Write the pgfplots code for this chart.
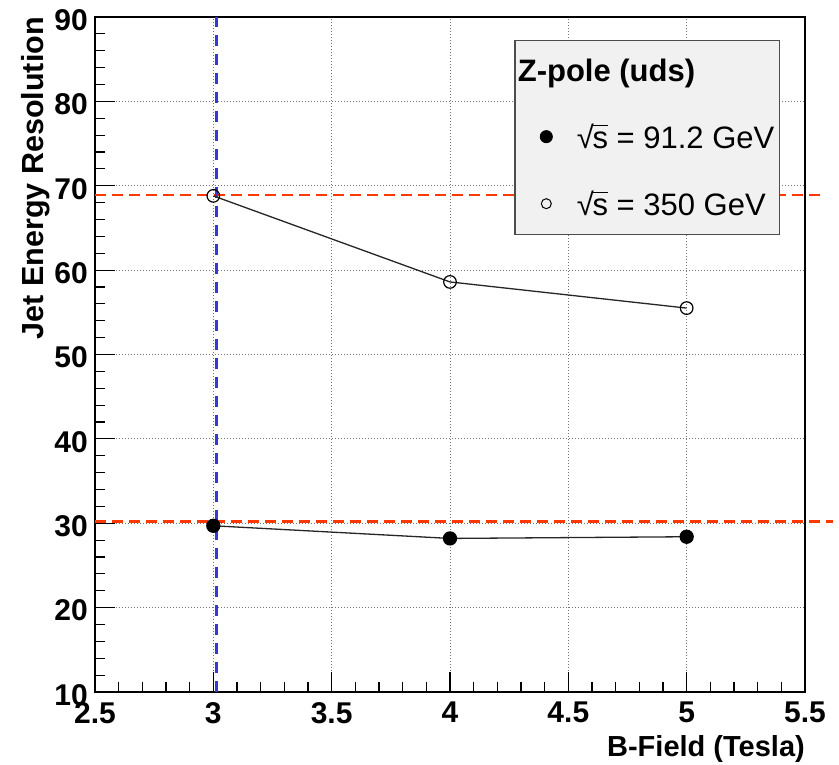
\documentclass[border=0pt]{standalone}
\usepackage{pgfplots}
\pgfplotsset{compat=1.18}
\usepackage{fontspec}
\setmainfont{Liberation Sans}

\definecolor{refline}{RGB}{255,55,0}
\definecolor{bfield}{RGB}{55,55,215}
\definecolor{legfill}{RGB}{241,241,241}

% sqrt(s) in ROOT style: radical glyph with a bar over the s
\newcommand{\rts}{√\kern-0.04em\vbox{\hrule height 1.3pt\kern 5.4pt\hbox{s}}}

\begin{document}
\begin{tikzpicture}
\begin{axis}[
  name=ax,
  scale only axis, width=710pt, height=675pt,
  xmin=2.5, xmax=5.5, ymin=10, ymax=90,
  xtick={2.5,3,3.5,4,4.5,5,5.5},
  ytick={10,20,30,40,50,60,70,80,90},
  minor x tick num=4, minor y tick num=4,
  tick pos=left, tick align=inside,
  major tick length=20pt, minor tick length=10pt,
  every tick/.style={black, line width=1.2pt},
  axis line style={black, line width=1.5pt},
  grid=major,
  major grid style={gray!90!black, line width=0.9pt, dash pattern=on 1pt off 2pt},
  /pgf/number format/assume math mode=true,
  ticklabel style={font=\fontsize{30}{30}\selectfont\bfseries, inner sep=0pt},
  xticklabel style={yshift=-10pt},
  yticklabel style={xshift=-7pt, yshift=-3pt},
  xlabel={\bfseries B-Field (Tesla)},
  ylabel={\bfseries Jet Energy Resolution},
  label style={inner sep=0pt},
  xlabel style={font=\fontsize{29}{29}\selectfont,
                at={([yshift=-43pt]rel axis cs:1,0)}, anchor=north east},
  ylabel style={font=\fontsize{30.5}{30.5}\selectfont,
                at={([xshift=-45pt]rel axis cs:0,1)}, anchor=south east},
  clip=false,
  legend cell align=left,
  legend style={
    at={(rel axis cs:0.965,0.966)}, anchor=north east,
    fill=legfill, draw=black!70, line width=1.5pt,
    font=\fontsize{31}{31}\selectfont,
    inner xsep=4pt, inner ysep=17pt,
    row sep=39pt,
    nodes={inner sep=1pt},
  },
  legend image code/.code={%
    \path (0pt,0pt) (56pt,0pt);
    \draw[#1] plot coordinates {(27pt,0pt)};
  },
]

% reference lines: nominal resolution at 3 T and the 3 T field value
\addplot[refline, line width=2.3pt, dash pattern=on 11pt off 6pt, forget plot]
  coordinates {(2.5,68.9) (5.57,68.9)};
\addplot[refline, line width=2.3pt, dash pattern=on 11pt off 6pt, forget plot]
  coordinates {(2.5,30.2) (5.62,30.2)};
\addplot[bfield, line width=2.7pt, dash pattern=on 11pt off 8pt, forget plot]
  coordinates {(3.014,10) (3.014,90)};

% sqrt(s) = 91.2 GeV
\addplot[black!85, line width=1.3pt, mark=*, mark size=6.5pt,
         mark options={solid, fill=black, draw=black}, forget plot]
  coordinates {(3,29.7) (4,28.2) (5,28.4)};
% sqrt(s) = 350 GeV
\addplot[black!85, line width=1.3pt, mark=o, mark size=6.3pt,
         mark options={solid, draw=black, line width=1.2pt}, forget plot]
  coordinates {(3,68.8) (4,58.6) (5,55.5)};

\addlegendimage{empty legend}
\addlegendentry{\hspace{-59pt}\bfseries Z-pole (uds)}
\addlegendimage{only marks, mark=*, mark size=6pt, black, line width=1pt}
\addlegendentry{\rts{} = 91.2 GeV}
\addlegendimage{only marks, mark=o, mark size=5pt, black, line width=1pt}
\addlegendentry{\rts{} = 350 GeV}
\end{axis}
\pgfresetboundingbox
\path (ax.south west) ++(-95pt,-72pt) rectangle ++(839pt,764pt);
\end{tikzpicture}
\end{document}
